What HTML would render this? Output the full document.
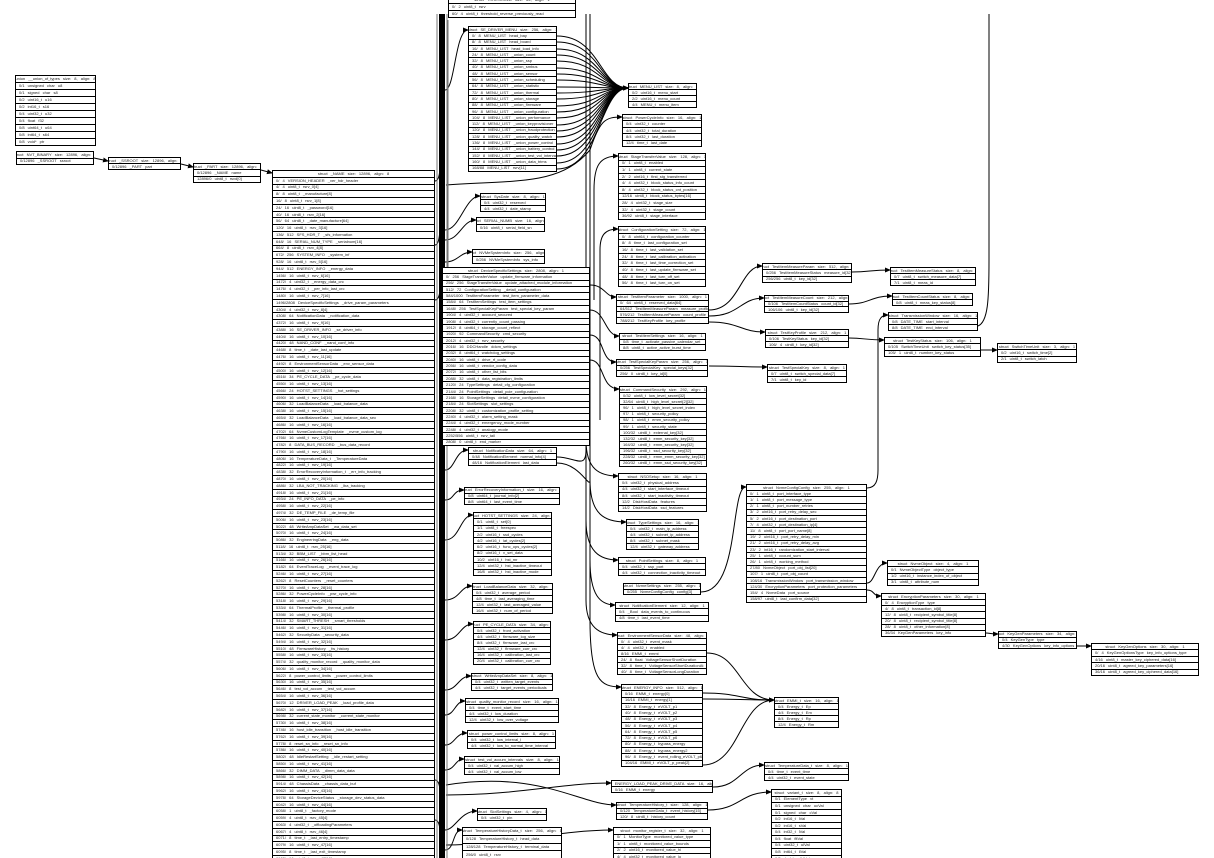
<!DOCTYPE html>
<html><head><meta charset="utf-8">
<style>
html,body{margin:0;padding:0;background:#fff;width:1214px;height:858px;overflow:hidden;position:relative}
svg{position:absolute;left:0;top:0}
.b{position:absolute;border:1.5px solid #000;background:#fff;display:flex;flex-direction:column;box-sizing:border-box;overflow:hidden}
.b p{margin:0;flex:1;min-height:0;border-top:1px solid #000;font:4px/1 "Liberation Sans",sans-serif;color:#222;white-space:nowrap;overflow:hidden;display:flex;align-items:center;padding-left:3px;word-spacing:2px}
.b p:first-child{border-top:0;justify-content:center;padding-left:0}
</style></head><body>
<svg width="1214" height="858" viewBox="0 0 1214 858">
<defs><marker id="a" markerWidth="6" markerHeight="6" refX="5" refY="3" orient="auto" markerUnits="userSpaceOnUse"><path d="M0,0.5 L6,3 L0,5.5z" fill="#000"/></marker></defs>
<g fill="none" stroke="#000" stroke-width="1" marker-end="url(#a)">
<path d="M94 158 L108 161"/><path d="M181 164 L193 167"/><path d="M261 170 L272 173"/>
<path d="M445 90 C455 90 455 30 468 30"/>
<path d="M445 230 C460 230 465 196 480 196"/>
<path d="M445 240 C460 240 462 220 476 220"/>
<path d="M445 262 C458 262 460 252 472 252"/>
<path d="M445 470 C455 470 455 450 468 450"/>
<path d="M445 500 C455 500 452 490 464 490"/>
<path d="M445 540 C460 540 460 515 473 515"/>
<path d="M445 600 C460 600 460 586 472 586"/>
<path d="M445 640 C460 640 460 624 473 624"/>
<path d="M445 690 C458 690 458 676 471 676"/>
<path d="M445 715 C455 715 455 701 465 701"/>
<path d="M445 745 C455 745 455 733 467 733"/>
<path d="M445 770 C455 770 455 759 464 759"/>
<path d="M445 830 C455 830 460 811 477 811"/>
<path d="M445 850 C455 850 452 830 462 830"/>
<path d="M586 440 C586 470 600 476 618 476"/>
<path d="M590 480 C590 515 605 522 626 522"/>
<path d="M586 520 C586 552 600 560 618 560"/>
<path d="M590 560 C590 595 600 605 615 605"/>
<path d="M586 600 C586 628 600 635 617 635"/>
<path d="M590 620 C590 680 600 687 621 687"/>
<path d="M446 795 C520 795 560 783 611 783"/>
<path d="M446 785 C540 770 580 805 616 805"/>
<path d="M446 845 C500 845 560 830 613 830"/>
<path d="M557 36 C600 36 600 88 628 88"/><path d="M557 42 C600 42 600 88 628 88"/><path d="M557 49 C600 49 600 88 628 88"/><path d="M557 55 C600 55 600 88 628 88"/><path d="M557 61 C600 61 600 88 628 88"/><path d="M557 68 C600 68 600 88 628 88"/><path d="M557 74 C600 74 600 88 628 88"/><path d="M557 80 C600 80 600 88 628 88"/><path d="M557 87 C600 87 600 88 628 88"/><path d="M557 93 C600 93 600 88 628 88"/><path d="M557 99 C600 99 600 88 628 88"/><path d="M557 106 C600 106 600 88 628 88"/><path d="M557 112 C600 112 600 88 628 88"/><path d="M557 118 C600 118 600 88 628 88"/><path d="M557 125 C600 125 600 88 628 88"/><path d="M557 131 C600 131 600 88 628 88"/><path d="M557 137 C600 137 600 88 628 88"/><path d="M557 144 C600 144 600 88 628 88"/><path d="M557 150 C600 150 600 88 628 88"/><path d="M557 156 C600 156 600 88 628 88"/><path d="M557 163 C600 163 600 88 628 88"/><path d="M557 169 C600 169 600 88 628 88"/>
<path d="M446 185 C520 180 560 185 590 150 C600 120 605 117 622 117"/>
<path d="M594 300 L594 190 C594 165 600 156 618 156"/>
<path d="M600 420 L600 250 C600 235 605 229 618 229"/>
<path d="M590 285 C605 285 605 297 616 297"/>
<path d="M590 310 C605 310 605 336 619 336"/>
<path d="M590 335 C605 335 600 362 616 362"/>
<path d="M590 360 C605 360 600 389 619 389"/>
<path d="M709 310 C740 310 740 266 762 266"/>
<path d="M709 316 C740 316 740 298 764 298"/>
<path d="M709 322 C740 322 740 332 765 332"/>
<path d="M709 366 C740 366 740 367 767 367"/>
<path d="M852 272 C870 272 870 270 890 270"/>
<path d="M849 304 C870 304 870 296 892 296"/>
<path d="M849 338 C865 338 865 340 884 340"/>
<path d="M981 350 L997 350"/>
<path d="M867 488 C876 488 878 480 878 470 L878 330 C878 318 882 315 888 315"/>
<path d="M701 592 C740 592 730 487 746 487"/>
<path d="M867 583 C875 583 875 563 887 563"/>
<path d="M867 590 C875 590 872 596 881 596"/>
<path d="M986 633 C990 633 990 634 998 634"/>
<path d="M1077 646 L1091 646"/>
<path d="M707 653 C740 653 740 700 774 700"/>
<path d="M703 693 C740 693 740 700 774 700"/>
<path d="M703 699 C740 699 740 700 774 700"/>
<path d="M703 765 C740 765 740 700 774 700"/>
<path d="M713 787 C740 787 740 765 764 765"/>
<path d="M708 810 C740 810 740 792 771 792"/>
</g>
<g fill="none" stroke="#000" stroke-width="1">
<path d="M978 326 C988 322 989 300 989 260 L989 14"/>
<path d="M586 14 L586 600"/><path d="M590 14 L590 620"/>
<path d="M557 457 C575 457 586 470 586 450"/>
<path d="M557 463 C580 463 590 490 590 480"/>
<path d="M435 181 C440 181 440 170 441 150"/><path d="M435 245 C440 245 440 230 441 210"/><path d="M435 300 C440 300 440 290 441 280"/>
<path d="M435 780 C440 780 440 790 441 800"/><path d="M435 820 C440 820 440 830 441 840"/>
</g>
<rect x="439" y="14" width="6" height="844" fill="#000"/>
<g fill="none" stroke="#777" stroke-width="1"><path d="M437 14 L437 858"/><path d="M447 14 L447 858"/><path d="M448 20 L448 300"/></g>
</svg>

<div class="b" style="left:15px;top:75px;width:81px;height:71px"><p>union __union_of_types size: 8, align: 8</p><p>0/1 unsigned char u8</p><p>0/1 signed char s8</p><p>0/2 uint16_t u16</p><p>0/2 int16_t s16</p><p>0/4 uint32_t u32</p><p>0/4 float f32</p><p>0/8 uint64_t u64</p><p>0/8 int64_t s64</p><p>0/8 void* ptr</p></div>
<div class="b" style="left:16px;top:151px;width:78px;height:14px"><p>struct NVT_BINARY size: 12896, align: 8</p><p>0/12896 _SSROOT ssroot</p></div>
<div class="b" style="left:108px;top:157px;width:73px;height:13px"><p>struct _SSROOT size: 12896, align: 8</p><p>0/12896 _PART part</p></div>
<div class="b" style="left:193px;top:163px;width:68px;height:20px"><p>struct _PART size: 12896, align: 8</p><p>0/12896 _NAME name</p><p>12896/0 uint8_t rsvd[0]</p></div>
<div class="b" style="left:272px;top:170px;width:163px;height:700px"><p>struct _NAME size: 12896, align: 8</p>
<p>0/ 4 VERSION_HEADER _ver_hdr_header</p><p>4/ 4 uint8_t rsrv_0[4]</p><p>8/ 8 uint8_t _manufacture[8]</p><p>16/ 8 uint8_t rsrv_1[8]</p><p>24/ 16 uint8_t _password[16]</p><p>40/ 16 uint8_t rsrv_2[16]</p><p>56/ 64 uint8_t _date_manufacture[64]</p><p>120/ 16 uint8_t rsrv_3[16]</p><p>136/ 512 SFS_HDR_T _sfs_information</p><p>648/ 16 SERIAL_NUM_TYPE _serialnum[16]</p><p>664/ 8 uint8_t rsrv_4[8]</p><p>672/ 256 SYSTEM_INFO _system_inf</p><p>928/ 16 uint8_t rsrv_5[16]</p><p>944/ 512 ENERGY_INFO _energy_data</p><p>1456/ 16 uint8_t rsrv_6[16]</p><p>1472/ 4 uint32_t _energy_data_crc</p><p>1476/ 4 uint32_t _per_info_last_crc</p><p>1480/ 16 uint8_t rsrv_7[16]</p><p>1496/2808 DeviceSpecificSettings _drive_param_parameters</p><p>4304/ 4 uint32_t rsrv_8[4]</p><p>4308/ 64 NotificationData _notification_data</p><p>4372/ 16 uint8_t rsrv_9[16]</p><p>4388/ 16 SE_DRIVER_INFO _se_driver_info</p><p>4404/ 16 uint8_t rsrv_10[16]</p><p>4420/ 48 NAND_CONF _nand_conf_info</p><p>4468/ 8 time_t _date_last_update</p><p>4476/ 16 uint8_t rsrv_11[16]</p><p>4492/ 8 EnvironmentSensorData _env_sensor_data</p><p>4500/ 16 uint8_t rsrv_12[16]</p><p>4516/ 34 PE_CYCLE_DATA _pe_cycle_data</p><p>4550/ 16 uint8_t rsrv_13[16]</p><p>4566/ 24 HOTST_SETTINGS _hot_settings</p><p>4590/ 16 uint8_t rsrv_14[16]</p><p>4606/ 32 LoadBalanceData _load_balance_data</p><p>4638/ 16 uint8_t rsrv_15[16]</p><p>4654/ 32 LoadBalanceData _load_balance_data_sec</p><p>4686/ 16 uint8_t rsrv_16[16]</p><p>4702/ 64 NvmeCustomLogTemplate _nvme_custom_log</p><p>4766/ 16 uint8_t rsrv_17[16]</p><p>4782/ 8 DATA_BUS_RECORD _bus_data_record</p><p>4790/ 16 uint8_t rsrv_18[16]</p><p>4806/ 16 TemperatureData_t _TemperatureData</p><p>4822/ 16 uint8_t rsrv_19[16]</p><p>4838/ 32 ErrorRecoveryInformation_t _err_info_tracking</p><p>4870/ 16 uint8_t rsrv_20[16]</p><p>4886/ 32 LBA_NOT_TRACKING _lba_tracking</p><p>4918/ 16 uint8_t rsrv_21[16]</p><p>4934/ 24 PE_INFO_DATA _pe_info</p><p>4958/ 16 uint8_t rsrv_22[16]</p><p>4974/ 32 DE_TEMP_FILE _de_temp_file</p><p>5006/ 16 uint8_t rsrv_23[16]</p><p>5022/ 48 WriteAmpDataSet _wa_data_set</p><p>5070/ 16 uint8_t rsrv_24[16]</p><p>5086/ 32 EngineeringData _eng_data</p><p>5118/ 16 uint8_t rsrv_25[16]</p><p>5134/ 32 BBM_LIST _bbm_list_head</p><p>5166/ 16 uint8_t rsrv_26[16]</p><p>5182/ 64 EventTraceLog _event_trace_log</p><p>5246/ 16 uint8_t rsrv_27[16]</p><p>5262/ 8 ResetCounters _reset_counters</p><p>5270/ 16 uint8_t rsrv_28[16]</p><p>5286/ 32 PowerCycleInfo _pwr_cycle_info</p><p>5318/ 16 uint8_t rsrv_29[16]</p><p>5334/ 64 ThermalProfile _thermal_profile</p><p>5398/ 16 uint8_t rsrv_30[16]</p><p>5414/ 32 SMART_THRESH _smart_thresholds</p><p>5446/ 16 uint8_t rsrv_31[16]</p><p>5462/ 32 SecurityData _security_data</p><p>5494/ 16 uint8_t rsrv_32[16]</p><p>5510/ 48 FirmwareHistory _fw_history</p><p>5558/ 16 uint8_t rsrv_33[16]</p><p>5574/ 32 quality_monitor_record _quality_monitor_data</p><p>5606/ 16 uint8_t rsrv_34[16]</p><p>5622/ 8 power_control_limits _power_control_limits</p><p>5630/ 16 uint8_t rsrv_35[16]</p><p>5646/ 8 test_vol_accum _test_vol_accum</p><p>5654/ 16 uint8_t rsrv_36[16]</p><p>5670/ 12 DRIVER_LOAD_PEAK _load_profile_data</p><p>5682/ 16 uint8_t rsrv_37[16]</p><p>5698/ 32 current_state_monitor _current_state_monitor</p><p>5730/ 16 uint8_t rsrv_38[16]</p><p>5746/ 16 host_idle_transition _host_idle_transition</p><p>5762/ 16 uint8_t rsrv_39[16]</p><p>5778/ 8 reset_sn_info _reset_sn_info</p><p>5786/ 16 uint8_t rsrv_40[16]</p><p>5802/ 48 IdleRestartSetting _idle_restart_setting</p><p>5850/ 16 uint8_t rsrv_41[16]</p><p>5866/ 32 DIMM_DATA _dimm_data_data</p><p>5898/ 16 uint8_t rsrv_42[16]</p><p>5914/ 48 ChassisData _chassis_data_buf</p><p>5962/ 16 uint8_t rsrv_43[16]</p><p>5978/ 64 StorageDeviceStatus _storage_dev_status_data</p><p>6042/ 16 uint8_t rsrv_44[16]</p><p>6058/ 1 uint8_t _factory_mode</p><p>6059/ 4 uint8_t rsrv_45[4]</p><p>6063/ 4 uint32_t _offloadingParameters</p><p>6067/ 4 uint8_t rsrv_46[4]</p><p>6071/ 8 time_t _last_entry_timestamp</p><p>6079/ 16 uint8_t rsrv_47[16]</p><p>6095/ 8 time_t _last_exit_timestamp</p><p>6103/ 16 uint8_t rsrv_48[16]</p><p>6119/ 8 uint64_t _checksum</p></div>

<div class="b" style="left:448px;top:-4px;width:128px;height:22px"><p>struct THRESHOLD size: 64, align: 1</p><p>0/ 2 uint8_t rsrv</p><p>60/ 4 uint8_t threshold_reverse_previously_read</p></div>
<div class="b" style="left:468px;top:26px;width:89px;height:146px"><p>struct SE_DRIVER_MENU size: 256, align: 1</p><p>0/ 8 MENU_LIST head_bay</p><p>8/ 8 MENU_LIST head_board</p><p>16/ 8 MENU_LIST head_load_info</p><p>24/ 8 MENU_LIST _union_count</p><p>32/ 8 MENU_LIST _union_ssp</p><p>40/ 8 MENU_LIST _union_smbus</p><p>48/ 8 MENU_LIST _union_sensor</p><p>56/ 8 MENU_LIST _union_scheduling</p><p>64/ 8 MENU_LIST _union_statistic</p><p>72/ 8 MENU_LIST _union_thermal</p><p>80/ 8 MENU_LIST _union_storage</p><p>88/ 8 MENU_LIST _union_firmware</p><p>96/ 8 MENU_LIST _union_configuration</p><p>104/ 8 MENU_LIST _union_performance</p><p>112/ 8 MENU_LIST _union_keyprovisioner</p><p>120/ 8 MENU_LIST _union_fraudprotection</p><p>128/ 8 MENU_LIST _union_quality_watch</p><p>136/ 8 MENU_LIST _union_power_control</p><p>144/ 8 MENU_LIST _union_battery_control</p><p>152/ 8 MENU_LIST _union_test_vol_interval</p><p>160/ 8 MENU_LIST _union_data_trims</p><p>168/88 MENU_LIST rsrv[11]</p></div>
<div class="b" style="left:628px;top:83px;width:69px;height:25px"><p>struct MENU_LIST size: 8, align: 1</p><p>0/2 uint16_t menu_start</p><p>2/2 uint16_t menu_count</p><p>4/4 MENU_t menu_item</p></div>
<div class="b" style="left:622px;top:114px;width:80px;height:33px"><p>struct PowerCycleInfo size: 16, align: 1</p><p>0/4 uint32_t counter</p><p>4/4 uint32_t total_duration</p><p>8/4 uint32_t last_duration</p><p>12/4 time_t last_date</p></div>
<div class="b" style="left:618px;top:153px;width:88px;height:67px"><p>struct StageTransferValue size: 128, align: 1</p><p>0/ 1 uint8_t enabled</p><p>1/ 1 uint8_t current_state</p><p>2/ 2 uint16_t first_stg_transferred</p><p>4/ 4 uint32_t block_status_info_count</p><p>8/ 4 uint32_t block_status_cnt_position</p><p>12/16 uint8_t block_status_bytes[16]</p><p>28/ 4 uint32_t stage_size</p><p>32/ 4 uint32_t stage_count</p><p>36/92 uint8_t stage_interface</p></div>
<div class="b" style="left:480px;top:193px;width:66px;height:19px"><p>struct SysDate size: 8, align: 1</p><p>0/4 uint32_t reserved</p><p>4/4 uint32_t date_stamp</p></div>
<div class="b" style="left:476px;top:217px;width:69px;height:15px"><p>struct SERIAL_NUMB size: 16, align: 1</p><p>0/16 uint8_t serial_field_sn</p></div>
<div class="b" style="left:472px;top:249px;width:73px;height:15px"><p>struct NVMeSystemInfo size: 256, align: 1</p><p>0/256 NVMeSystemInfo sys_info</p></div>
<div class="b" style="left:618px;top:226px;width:88px;height:61px"><p>struct ConfigurationSetting size: 72, align: 1</p><p>0/ 8 uint64_t configuration_counter</p><p>8/ 8 time_t last_configuration_set</p><p>16/ 8 time_t last_validation_set</p><p>24/ 8 time_t last_calibration_activation</p><p>32/ 8 time_t last_time_correction_set</p><p>40/ 8 time_t last_update_firmware_set</p><p>48/ 8 time_t last_turn_off_set</p><p>56/ 8 time_t last_turn_on_set</p></div>
<div class="b" style="left:442px;top:267px;width:148px;height:179px"><p>struct DeviceSpecificSettings size: 2808, align: 1</p><p>0/ 256 StageTransferValue update_firmware_information</p><p>256/ 256 StageTransferValue update_attached_module_information</p><p>512/ 72 ConfigurationSetting _detail_configuration</p><p>584/1000 TestItemParameter test_item_parameter_data</p><p>1584/ 64 TestItemSettings test_item_settings</p><p>1648/ 256 TestSpecialKeyParam test_special_key_param</p><p>1904/ 4 uint32_t account_secured</p><p>1908/ 4 uint32_t currently_count_passing</p><p>1912/ 8 uint64_t storage_count_reflect</p><p>1920/ 92 CommandSecurity cmd_security</p><p>2012/ 4 uint32_t rsrv_security</p><p>2016/ 16 DDCHandle ddcm_settings</p><p>2032/ 8 uint64_t watchdog_settings</p><p>2040/ 16 uint8_t drive_rf_code</p><p>2056/ 16 uint8_t vendor_config_data</p><p>2072/ 16 uint8_t other_list_bits</p><p>2088/ 32 uint8_t data_registration_limits</p><p>2120/ 24 TypeSettings detail_cfg_configuration</p><p>2144/ 24 PointSettings detail_pcie_configuration</p><p>2168/ 16 StorageSettings detail_nvme_configuration</p><p>2184/ 24 SlotSettings slot_settings</p><p>2208/ 32 uint8_t customization_profile_setting</p><p>2240/ 4 uint32_t alarm_setting_mask</p><p>2244/ 4 uint32_t emergency_mode_number</p><p>2248/ 4 uint32_t analogy_mode</p><p>2252/556 uint8_t rsrv_tail</p><p>2808/ 0 uint8_t end_marker</p></div>
<div class="b" style="left:616px;top:294px;width:93px;height:30px"><p>struct TestItemParameter size: 1000, align: 1</p><p>0/ 64 uint8_t reserved_data[64]</p><p>64/512 TestItemMeasureParam measure_profile</p><p>576/212 TestItemMeasureParam count_profile</p><p>788/212 TestKeyProfile key_profile</p></div>
<div class="b" style="left:619px;top:333px;width:87px;height:18px"><p>struct TestItemSettings size: 16, align: 1</p><p>0/8 time_t activate_passive_calendar_set</p><p>8/8 uint8_t active_active_burst_time</p></div>
<div class="b" style="left:616px;top:359px;width:92px;height:18px"><p>struct TestSpecialKeyParam size: 256, align: 1</p><p>0/256 TestSpecialKey special_keys[32]</p><p>256/ 0 uint8_t key_id[0]</p></div>
<div class="b" style="left:619px;top:386px;width:88px;height:81px"><p>struct CommandSecurity size: 292, align: 1</p><p>0/32 uint8_t low_level_secret[32]</p><p>32/64 uint8_t high_level_secret[2][32]</p><p>96/ 1 uint8_t high_level_secret_index</p><p>97/ 1 uint8_t security_policy</p><p>98/ 1 uint8_t emm_security_policy</p><p>99/ 1 uint8_t security_state</p><p>100/32 uint8_t external_key[32]</p><p>132/32 uint8_t emm_security_key[32]</p><p>164/32 uint8_t emm_security_key[32]</p><p>196/32 uint8_t ssd_security_key[32]</p><p>228/32 uint8_t emm_emm_security_key[32]</p><p>260/32 uint8_t emm_ssd_security_key[32]</p></div>
<div class="b" style="left:468px;top:447px;width:89px;height:19px"><p>struct NotificationData size: 64, align: 1</p><p>0/48 NotificationElement normal_info[4]</p><p>48/16 NotificationElement last_data</p></div>
<div class="b" style="left:464px;top:487px;width:96px;height:18px"><p>struct ErrorRecoveryInformation_t size: 16, align: 1</p><p>0/8 uint64_t journal_info[2]</p><p>8/8 uint64_t last_event_time</p></div>
<div class="b" style="left:473px;top:512px;width:79px;height:64px"><p>struct HOTST_SETTINGS size: 24, align: 1</p><p>0/1 uint8_t set[0]</p><p>1/1 uint8_t freespec</p><p>2/2 uint16_t ssd_cycles</p><p>4/2 uint16_t lat_cycles[2]</p><p>6/2 uint16_t func_ops_cycles[2]</p><p>8/2 uint16_t v_set_data</p><p>10/2 uint16_t hst_mr</p><p>12/4 uint32_t hst_inactive_timeout</p><p>16/8 uint32_t hst_inactive_mode</p></div>
<div class="b" style="left:472px;top:583px;width:81px;height:31px"><p>struct LoadBalanceData size: 32, align: 1</p><p>0/4 uint32_t average_period</p><p>4/8 time_t last_averaging_time</p><p>12/4 uint32_t last_averaged_value</p><p>16/4 uint32_t num_of_period</p></div>
<div class="b" style="left:473px;top:621px;width:78px;height:44px"><p>struct PE_CYCLE_DATA size: 34, align: 1</p><p>0/4 uint32_t front_activation</p><p>4/4 uint32_t firmware_log_size</p><p>8/4 uint32_t firmware_last_crc</p><p>12/4 uint32_t firmware_curr_crc</p><p>16/4 uint32_t calibration_last_crc</p><p>20/4 uint32_t calibration_curr_crc</p></div>
<div class="b" style="left:471px;top:673px;width:82px;height:18px"><p>struct WriteAmpDataSet size: 8, align: 1</p><p>0/4 uint32_t written_target_events</p><p>4/4 uint32_t target_events_periodicals</p></div>
<div class="b" style="left:465px;top:698px;width:94px;height:25px"><p>struct quality_monitor_record size: 16, align: 1</p><p>0/4 time_t event_start_time</p><p>4/4 uint32_t low_duration</p><p>12/4 uint32_t low_over_voltage</p></div>
<div class="b" style="left:467px;top:730px;width:89px;height:19px"><p>struct power_control_limits size: 8, align: 1</p><p>0/4 uint32_t low_interval_l</p><p>4/4 uint32_t low_to_normal_time_interval</p></div>
<div class="b" style="left:464px;top:756px;width:96px;height:19px"><p>struct test_vol_accum_intervals size: 8, align: 1</p><p>0/4 uint32_t val_accum_high</p><p>4/4 uint32_t val_accum_low</p></div>
<div class="b" style="left:477px;top:808px;width:70px;height:13px"><p>struct SlotSettings size: 4, align: 1</p><p>0/4 uint32_t pin</p></div>
<div class="b" style="left:462px;top:827px;width:100px;height:40px"><p>struct TemperatureHistoryData_t size: 256, align: 1</p><p>0/128 TemperatureHistory_t head_data</p><p>128/128 TemperatureHistory_t terminal_data</p><p>256/0 uint8_t rsrv</p><p>256/0 uint8_t end</p></div>
<div class="b" style="left:618px;top:473px;width:89px;height:39px"><p>struct NSOSetup size: 16, align: 1</p><p>0/4 uint32_t physical_address</p><p>4/4 uint32_t start_interface_timeout</p><p>8/4 uint32_t start_inactivity_timeout</p><p>12/2 DiskHostData features</p><p>14/2 DiskHostData ssd_features</p></div>
<div class="b" style="left:626px;top:519px;width:73px;height:31px"><p>struct TypeSettings size: 16, align: 1</p><p>0/4 uint32_t main_ip_address</p><p>4/4 uint32_t subnet_ip_address</p><p>8/4 uint32_t subnet_mask</p><p>12/4 uint32_t gateway_address</p></div>
<div class="b" style="left:618px;top:557px;width:88px;height:19px"><p>struct PointSettings size: 8, align: 1</p><p>0/4 uint32_t ssp_port</p><p>4/4 uint32_t connection_inactivity_timeout</p></div>
<div class="b" style="left:623px;top:583px;width:78px;height:12px"><p>struct NvmeSettings size: 255, align: 1</p><p>0/255 NvmeConfigConfig config[3]</p></div>
<div class="b" style="left:615px;top:602px;width:94px;height:20px"><p>struct NotificationElement size: 12, align: 1</p><p>0/4 _Bool data_events_to_continuous</p><p>4/8 time_t last_event_time</p></div>
<div class="b" style="left:617px;top:632px;width:90px;height:43px"><p>struct EnvironmentSensorData size: 48, align: 1</p><p>0/ 4 uint32_t event_mask</p><p>4/ 4 uint32_t enabled</p><p>8/16 EMMI_t emmi</p><p>24/ 8 float VoltageSensorShortDuration</p><p>32/ 8 time_t VoltageSensorShortDurationAt</p><p>40/ 8 time_t VoltageSensorLongDuration</p></div>
<div class="b" style="left:621px;top:684px;width:82px;height:83px"><p>struct ENERGY_INFO size: 512, align: 1</p><p>0/16 EMMI_t energy[0]</p><p>16/16 EMMI_t energy[1]</p><p>32/ 8 Energy_t eVOLT_p1</p><p>40/ 8 Energy_t eVOLT_p2</p><p>48/ 8 Energy_t eVOLT_p3</p><p>56/ 8 Energy_t eVOLT_p4</p><p>64/ 8 Energy_t eVOLT_p5</p><p>72/ 8 Energy_t eVOLT_p6</p><p>80/ 8 Energy_t bypass_energy</p><p>88/ 8 Energy_t bypass_energy2</p><p>96/ 8 Energy_t event_rolling_eVOLT_p6</p><p>104/16 EMMI_t eVOLT_p_peak[2]</p></div>
<div class="b" style="left:611px;top:780px;width:102px;height:13px"><p>struct ENERGY_LOAD_PEAK_DRIVE_DATA size: 16, align: 1</p><p>0/16 EMMI_t energy</p></div>
<div class="b" style="left:616px;top:802px;width:92px;height:18px"><p>struct TemperatureHistory_t size: 128, align: 1</p><p>0/120 TemperatureData_t event_history[15]</p><p>120/ 8 uint8_t history_count</p></div>
<div class="b" style="left:613px;top:827px;width:98px;height:40px"><p>struct monitor_register_t size: 32, align: 1</p><p>0/ 1 MonitorType monitored_value_type</p><p>1/ 1 uint8_t monitored_value_bounds</p><p>2/ 2 uint16_t monitored_value_hi</p><p>4/ 4 uint32_t monitored_value_lo</p><p>8/24 uint8_t rsrv</p></div>
<div class="b" style="left:746px;top:484px;width:121px;height:119px"><p>struct NvmeConfigConfig size: 255, align: 1</p><p>0/ 1 uint8_t port_interface_type</p><p>1/ 1 uint8_t port_message_type</p><p>2/ 1 uint8_t port_number_retries</p><p>3/ 2 uint16_t port_retry_delay_sec</p><p>5/ 2 uint16_t port_destination_port</p><p>7/ 4 uint32_t port_destination_ip[4]</p><p>11/ 8 uint8_t port_port_name[8]</p><p>19/ 2 uint16_t port_retry_delay_min</p><p>21/ 2 uint16_t port_retry_delay_avg</p><p>23/ 2 int16_t randomization_start_interval</p><p>25/ 1 uint8_t ccount_sum</p><p>26/ 1 uint8_t working_method</p><p>27/80 NvmeObject port_obj_list[20]</p><p>107/ 1 uint8_t port_obj_count</p><p>108/16 TransmissionWindow port_transmission_window</p><p>124/30 EncryptionParameters port_protection_parameters</p><p>154/ 4 NvmeData port_source</p><p>158/97 uint8_t last_confirm_data[32]</p></div>
<div class="b" style="left:774px;top:697px;width:65px;height:31px"><p>struct EMMI_t size: 16, align: 1</p><p>0/4 Energy_t Ep</p><p>4/4 Energy_t Em</p><p>8/4 Energy_t Rp</p><p>12/4 Energy_t Rm</p></div>
<div class="b" style="left:764px;top:762px;width:85px;height:19px"><p>struct TemperatureData_t size: 8, align: 1</p><p>0/4 time_t event_time</p><p>4/4 uint32_t event_state</p></div>
<div class="b" style="left:771px;top:789px;width:71px;height:80px"><p>struct variant_t size: 8, align: 8</p><p>0/1 ElementType vt</p><p>0/1 unsigned char ucVal</p><p>0/1 signed char cVal</p><p>0/2 int16_t iVal</p><p>0/2 int16_t sVal</p><p>0/4 int32_t lVal</p><p>0/4 float fltVal</p><p>0/4 uint32_t ulVal</p><p>0/8 int64_t llVal</p><p>0/8 double dblVal</p><p>0/8 void* ptr</p></div>
<div class="b" style="left:887px;top:560px;width:92px;height:26px"><p>struct NvmeObject size: 4, align: 1</p><p>0/1 NvmeObjectType object_type</p><p>1/2 uint16_t instance_index_of_object</p><p>3/1 uint8_t attribute_num</p></div>
<div class="b" style="left:881px;top:593px;width:105px;height:44px"><p>struct EncryptionParameters size: 30, align: 1</p><p>0/ 4 EncryptionType type</p><p>4/ 8 uint8_t transaction_id[8]</p><p>12/ 8 uint8_t recipient_symbol_title[8]</p><p>20/ 8 uint8_t recipient_symbol_title[8]</p><p>28/ 8 uint8_t other_information[8]</p><p>36/34 KeyGenParameters key_info</p></div>
<div class="b" style="left:998px;top:631px;width:79px;height:18px"><p>struct KeyGenParameters size: 34, align: 1</p><p>0/4 KeyGenType type</p><p>4/30 KeyGenOptions key_info_options</p></div>
<div class="b" style="left:1091px;top:643px;width:108px;height:33px"><p>struct KeyGenOptions size: 30, align: 1</p><p>0/ 4 KeyGenOptionsType key_info_options_type</p><p>4/16 uint8_t master_key_ciphered_data[16]</p><p>20/16 uint8_t agreed_key_parameters[16]</p><p>36/16 uint8_t agreed_key_ciphered_data[16]</p></div>
<div class="b" style="left:762px;top:263px;width:90px;height:20px"><p>struct TestItemMeasureParam size: 512, align: 1</p><p>0/256 TestItemMeasureStatus measure_id[32]</p><p>256/256 uint8_t key_id[32]</p></div>
<div class="b" style="left:764px;top:295px;width:85px;height:18px"><p>struct TestItemMeasureCount size: 212, align: 1</p><p>0/106 TestItemCountStatus count_id[32]</p><p>106/106 uint8_t key_id[32]</p></div>
<div class="b" style="left:765px;top:329px;width:84px;height:19px"><p>struct TestKeyProfile size: 212, align: 1</p><p>0/106 TestKeyStatus key_id[32]</p><p>106/ 4 uint8_t key_id[32]</p></div>
<div class="b" style="left:767px;top:364px;width:80px;height:19px"><p>struct TestSpecialKey size: 8, align: 1</p><p>0/7 uint8_t switch_special_data[7]</p><p>7/1 uint8_t key_id</p></div>
<div class="b" style="left:890px;top:267px;width:86px;height:19px"><p>struct TestItemMeasureStatus size: 8, align: 1</p><p>0/7 uint8_t switch_measure_data[7]</p><p>7/1 uint8_t meas_id</p></div>
<div class="b" style="left:892px;top:293px;width:81px;height:13px"><p>struct TestItemCountStatus size: 8, align: 1</p><p>0/8 uint8_t meas_key_status[8]</p></div>
<div class="b" style="left:888px;top:312px;width:90px;height:19px"><p>struct TransmissionWindow size: 16, align: 1</p><p>0/8 DATE_TIME start_interval</p><p>8/8 DATE_TIME end_interval</p></div>
<div class="b" style="left:884px;top:337px;width:97px;height:20px"><p>struct TestKeyStatus size: 106, align: 1</p><p>0/105 SwitchTimeUnit switch_key_status[35]</p><p>105/ 1 uint8_t number_key_status</p></div>
<div class="b" style="left:997px;top:343px;width:80px;height:20px"><p>struct SwitchTimeUnit size: 3, align: 1</p><p>0/2 uint16_t switch_time[2]</p><p>2/1 uint8_t switch_latch</p></div>
</body></html>
